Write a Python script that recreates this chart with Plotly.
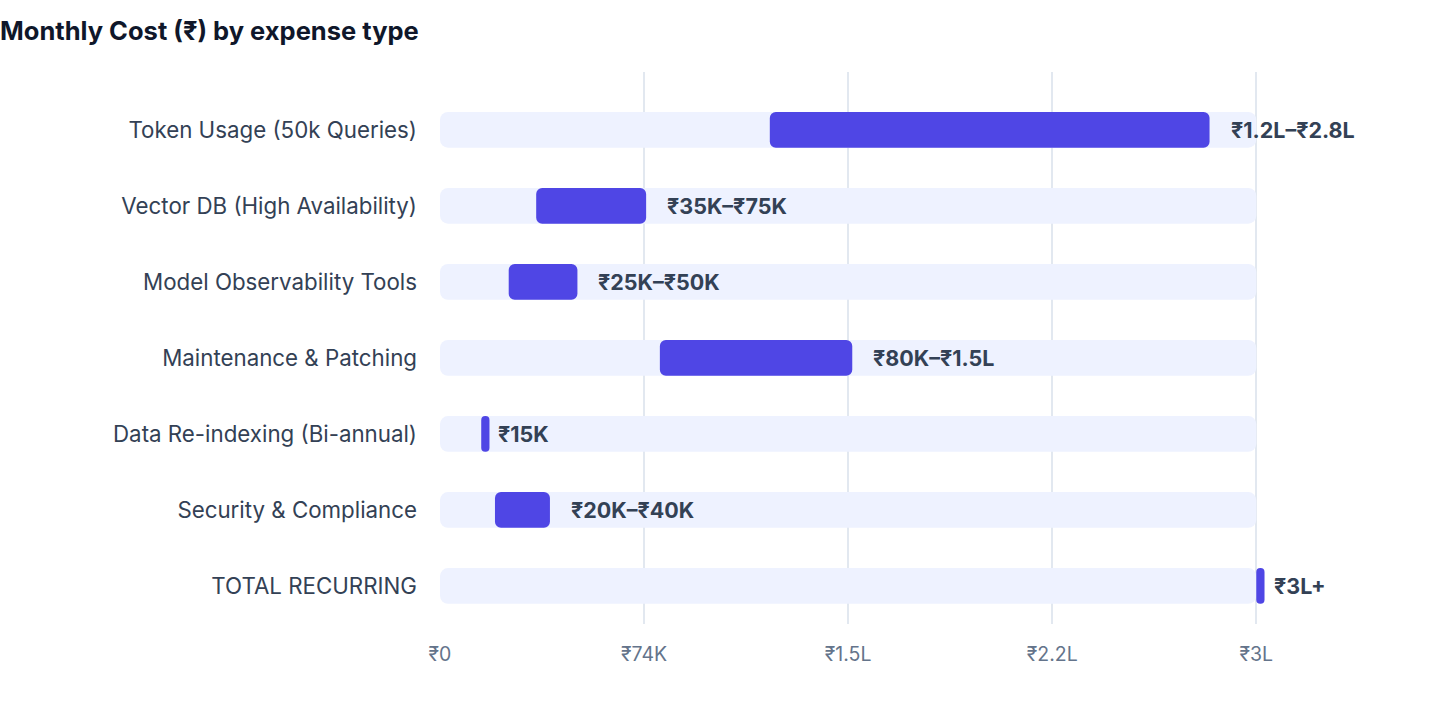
import plotly.graph_objects as go

categories = [
    "Token Usage (50k Queries)",
    "Vector DB (High Availability)",
    "Model Observability Tools",
    "Maintenance & Patching",
    "Data Re-indexing (Bi-annual)",
    "Security & Compliance",
    "TOTAL RECURRING",
]
low_values = [120000, 35000, 25000, 80000, 15000, 20000, 297000]
high_values = [280000, 75000, 50000, 150000, 18000, 40000, 300000]
value_labels = ["₹1.2L–₹2.8L", "₹35K–₹75K", "₹25K–₹50K", "₹80K–₹1.5L", "₹15K", "₹20K–₹40K", "₹3L+"]
scale_max = 297000
tick_values = [0, 74250, 148500, 222750, 297000]
tick_labels = ["₹0", "₹74K", "₹1.5L", "₹2.2L", "₹3L"]

FONT = "Inter, Liberation Sans, DejaVu Sans, sans-serif"
PLOT_L, PLOT_R_PX = 440, 1256
px_per_unit = (PLOT_R_PX - PLOT_L) / scale_max
x_max = 310000
right_px = PLOT_L + x_max * px_per_unit

fig = go.Figure()
fig.add_trace(go.Bar(
    y=categories, x=[scale_max] * len(categories), base=[0] * len(categories),
    orientation="h", marker=dict(color="#EEF2FF", cornerradius=8, line=dict(width=0)),
    width=0.47, hoverinfo="skip", showlegend=False,
))
fig.add_trace(go.Bar(
    y=categories, x=[h - l for l, h in zip(low_values, high_values)], base=low_values,
    orientation="h", marker=dict(color="#4F46E5", cornerradius=6, line=dict(width=0)),
    width=0.47, showlegend=False,
))

for cat, lo, hi, lab in zip(categories, low_values, high_values, value_labels):
    narrow = (hi - lo) * px_per_unit < 12
    fig.add_annotation(
        x=hi, y=cat, text=f"<b>{lab}</b>", showarrow=False,
        xanchor="left", yanchor="middle", xshift=7 if narrow else 19,
        font=dict(family=FONT, size=21.5, color="#334155"),
    )

fig.update_layout(
    width=1440, height=712,
    margin=dict(l=PLOT_L, r=1440 - right_px, t=72, b=88),
    paper_bgcolor="white", plot_bgcolor="white",
    barmode="overlay",
    title=dict(text="<b>Monthly Cost (₹) by expense type</b>", x=0, xref="container",
               xanchor="left", y=1 - 31 / 712, yanchor="middle", yref="container",
               font=dict(family=FONT, size=25.5, color="#0F172A")),
    font=dict(family=FONT),
)
fig.update_xaxes(
    range=[0, x_max], tickvals=tick_values, ticktext=tick_labels,
    showgrid=True, gridcolor="#E2E8F0", gridwidth=1.5, zeroline=False,
    showline=False, ticks="", ticklabelstandoff=16,
    tickfont=dict(family=FONT, size=19.5, color="#64748B"),
)
fig.update_yaxes(
    categoryorder="array", categoryarray=categories,
    range=[6.5, -0.76], showgrid=False, zeroline=False, showline=False,
    ticks="", ticklabelstandoff=22,
    tickfont=dict(family=FONT, size=22.3, color="#334155"),
)
fig.write_html("out.html", config={"displayModeBar": False},
               post_script="document.body.style.margin='0';")
